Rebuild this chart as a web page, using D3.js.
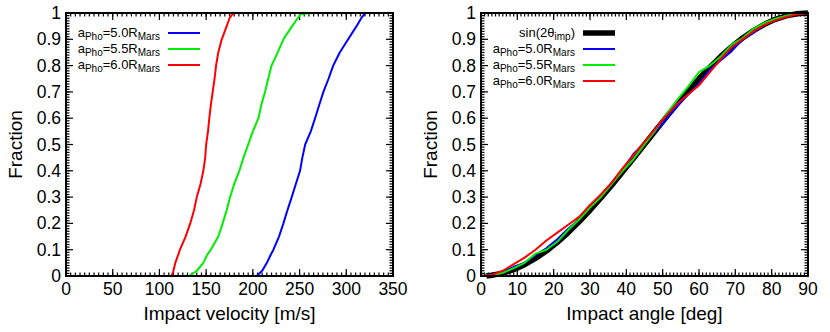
<!DOCTYPE html>
<meta charset="utf-8">
<html>
<head>
<script src="https://d3js.org/d3.v7.min.js" charset="utf-8"></script>
<style>
body { margin: 0; background: #fff; }
svg { font-family: "Liberation Sans", Arial, sans-serif; }
.tick-label { font-size: 17.5px; fill: #000; }
.axis-title { font-size: 19px; fill: #000; }
.legend { font-size: 13px; fill: #000; }
</style>
</head>
<body>
<svg width="830" height="332"></svg>
<script>
// left panel: fraction levels and impact velocity for each Phobos orbit
var fracLevels = [0, 0.02, 0.05, 0.08, 0.1, 0.15, 0.2, 0.25, 0.3, 0.35, 0.4, 0.45, 0.5, 0.55, 0.6, 0.65, 0.7, 0.75, 0.8, 0.85, 0.9, 0.95, 0.98, 0.995, 1];
var vel50 = [204, 210, 215, 219, 222, 228, 232.7, 237, 241.6, 246, 250.5, 253, 256, 262, 266.6, 271, 275.5, 281, 286, 293, 302, 311, 316, 319, 321];
var vel55 = [132, 140, 147, 151, 155, 163, 167.7, 172, 175.6, 180, 185.5, 190, 195, 200, 206, 209, 213, 216.5, 220, 226.6, 232.7, 242, 248, 251, 262];
var vel60 = [113, 115, 117, 120, 122, 128, 133, 137, 140, 144, 147, 149, 150, 152, 153.4, 155, 157, 159, 160.6, 163, 166.7, 172, 175, 178, 182];

// right panel: impact angle and fraction
var angles = [0, 3, 6, 9, 12, 15, 18, 21, 24, 27, 30, 33, 36, 39, 42, 45, 48, 51, 54, 57, 60, 63, 66, 69, 72, 75, 78, 81, 84, 87, 90];
var fracSin = [0, 0.003, 0.011, 0.024, 0.043, 0.067, 0.095, 0.128, 0.165, 0.206, 0.25, 0.297, 0.345, 0.396, 0.448, 0.5, 0.552, 0.604, 0.655, 0.703, 0.75, 0.794, 0.835, 0.872, 0.905, 0.933, 0.957, 0.976, 0.989, 0.997, 1];
var frac50 = [0, 0.005, 0.015, 0.035, 0.05, 0.08, 0.105, 0.14, 0.18, 0.215, 0.265, 0.305, 0.35, 0.405, 0.465, 0.505, 0.55, 0.595, 0.645, 0.69, 0.73, 0.785, 0.82, 0.855, 0.9, 0.925, 0.955, 0.975, 0.988, 0.996, 1];
var frac55 = [0, 0.002, 0.012, 0.03, 0.05, 0.085, 0.1, 0.13, 0.175, 0.215, 0.26, 0.3, 0.35, 0.4, 0.445, 0.5, 0.555, 0.615, 0.67, 0.72, 0.775, 0.8, 0.835, 0.88, 0.905, 0.94, 0.962, 0.978, 0.99, 0.997, 1];
var frac60 = [0, 0.004, 0.02, 0.045, 0.07, 0.1, 0.135, 0.165, 0.195, 0.225, 0.27, 0.31, 0.355, 0.41, 0.46, 0.51, 0.56, 0.61, 0.655, 0.69, 0.725, 0.775, 0.825, 0.87, 0.9, 0.93, 0.955, 0.972, 0.985, 0.995, 1];

var legendNames = ["5.0", "5.5", "6.0"];
var colors = ["#0000ff", "#00ee00", "#ff0000"];

var svg = d3.select("svg");
var top0 = 13, bottom0 = 276;

function panel(opt) {
  var g = svg.append("g");
  var x = d3.scaleLinear().domain(opt.xDomain).range([opt.left, opt.right]);
  var y = d3.scaleLinear().domain([0, 1]).range([bottom0, top0]);

  // minor and major ticks on all four sides, pointing inward
  var xMinor = d3.range(opt.xDomain[0], opt.xDomain[1] + 1e-9, opt.xMinor);
  var xMajor = d3.range(opt.xDomain[0], opt.xDomain[1] + 1e-9, opt.xMajor);
  var yMinor = d3.range(0, 1.00001, 0.01);
  var yMajor = d3.range(0, 1.00001, 0.1);
  var tk = g.append("g").attr("stroke", "#000");
  function vt(vals, len, w) {
    vals.forEach(function(v) {
      tk.append("line").attr("x1", x(v)).attr("x2", x(v)).attr("y1", bottom0).attr("y2", bottom0 - len).attr("stroke-width", w);
      tk.append("line").attr("x1", x(v)).attr("x2", x(v)).attr("y1", top0).attr("y2", top0 + len).attr("stroke-width", w);
    });
  }
  function ht(vals, len, w) {
    vals.forEach(function(v) {
      tk.append("line").attr("y1", y(v)).attr("y2", y(v)).attr("x1", opt.left).attr("x2", opt.left + len).attr("stroke-width", w);
      tk.append("line").attr("y1", y(v)).attr("y2", y(v)).attr("x1", opt.right).attr("x2", opt.right - len).attr("stroke-width", w);
    });
  }
  vt(xMinor, 3.5, 1.2); vt(xMajor, 7, 1.2);
  ht(yMinor, 3.5, 1.2); ht(yMajor, 7, 1.2);

  // curves
  opt.series.forEach(function(s) {
    g.append("path")
      .datum(s.pts)
      .attr("fill", "none")
      .attr("stroke", s.color)
      .attr("stroke-width", s.width)
      .attr("stroke-linejoin", "round")
      .attr("d", d3.line().x(function(d) { return x(d[0]); }).y(function(d) { return y(d[1]); }));
  });

  g.append("rect")
    .attr("x", opt.left).attr("y", top0)
    .attr("width", opt.right - opt.left).attr("height", bottom0 - top0)
    .attr("fill", "none").attr("stroke", "#000").attr("stroke-width", 2);

  xMajor.forEach(function(v) {
    g.append("text").attr("class", "tick-label").attr("x", x(v)).attr("y", 295)
      .attr("text-anchor", "middle").text(v);
  });
  yMajor.forEach(function(v) {
    g.append("text").attr("class", "tick-label").attr("x", opt.left - 5).attr("y", y(v) + 6)
      .attr("text-anchor", "end").text(d3.format("~g")(+v.toFixed(1)));
  });

  g.append("text").attr("class", "axis-title")
    .attr("x", (opt.left + opt.right) / 2).attr("y", 320)
    .attr("text-anchor", "middle").text(opt.xTitle);
  g.append("text").attr("class", "axis-title")
    .attr("transform", "translate(" + (opt.left - 44) + "," + ((top0 + bottom0) / 2) + ") rotate(-90)")
    .attr("text-anchor", "middle").text("Fraction");

  // legend
  opt.legend.forEach(function(l, i) {
    var ly = opt.legendY0 + i * opt.legendDy;
    var t = g.append("text").attr("class", "legend")
      .attr("x", opt.left + opt.legendTextEnd).attr("y", ly + 4).attr("text-anchor", "end");
    l.parts.forEach(function(p) {
      var ts = t.append("tspan").text(p[0]);
      if (p[1] === "sub") ts.attr("font-size", "10px").attr("dy", 3);
      if (p[1] === "up") ts.attr("dy", -3);
    });
    g.append("line")
      .attr("x1", opt.left + opt.legendTextEnd + 8).attr("x2", opt.left + opt.legendTextEnd + 40)
      .attr("y1", ly).attr("y2", ly)
      .attr("stroke", l.color).attr("stroke-width", l.width);
  });
}

function orbitLabel(n) {
  return [["a"], ["Pho", "sub"], ["=" + n + "R", "up"], ["Mars", "sub"]];
}

panel({
  left: 66, right: 393, xDomain: [0, 350], xMajor: 50, xMinor: 5,
  xTitle: "Impact velocity [m/s]",
  series: [vel50, vel55, vel60].map(function(arr, i) {
    return { color: colors[i], width: 2, pts: arr.map(function(v, j) { return [v, fracLevels[j]]; }) };
  }),
  legendY0: 33, legendDy: 16, legendTextEnd: 94,
  legend: legendNames.map(function(n, i) { return { parts: orbitLabel(n), color: colors[i], width: 2 }; })
});

panel({
  left: 481, right: 808, xDomain: [0, 90], xMajor: 10, xMinor: 1,
  xTitle: "Impact angle [deg]",
  series: [{ color: "#000", width: 5.5, pts: angles.map(function(a, j) { return [Math.max(a, 1.5), fracSin[j]]; }) }]
    .concat([frac50, frac55, frac60].map(function(arr, i) {
      return { color: colors[i], width: 2, pts: arr.map(function(f, j) { return [angles[j], f]; }) };
    })),
  legendY0: 33, legendDy: 16, legendTextEnd: 94,
  legend: [{ parts: [["sin(2θ"], ["imp", "sub"], [")", "up"]], color: "#000", width: 5.5 }]
    .concat(legendNames.map(function(n, i) { return { parts: orbitLabel(n), color: colors[i], width: 2 }; }))
});
</script>
</body>
</html>
